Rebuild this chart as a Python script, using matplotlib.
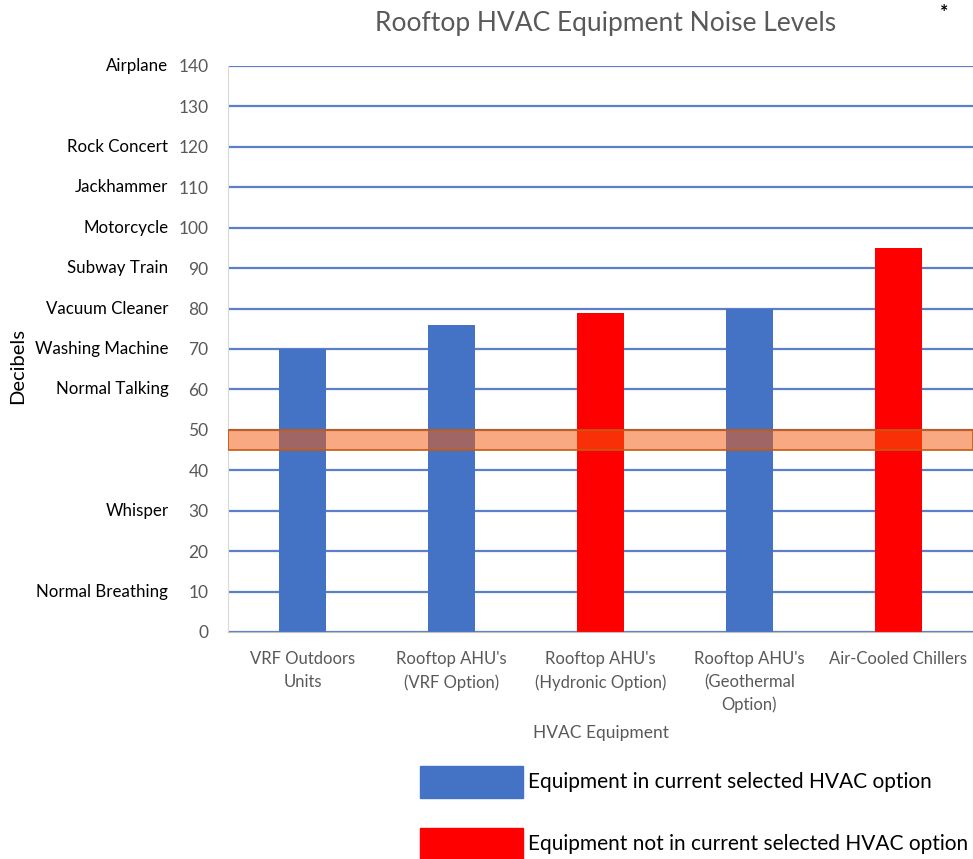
import matplotlib.pyplot as plt
from matplotlib.patches import Rectangle

# data
categories = ["VRF Outdoors\nUnits", "Rooftop AHU's\n(VRF Option)", "Rooftop AHU's\n(Hydronic Option)",
              "Rooftop AHU's\n(Geothermal\nOption)", "Air-Cooled Chillers"]
decibels = [70, 76, 79, 80, 95]
in_selected = [True, True, False, True, False]
ref_levels = [140, 120, 110, 100, 90, 80, 70, 60, 30, 10]
ref_names = ["Airplane", "Rock Concert", "Jackhammer", "Motorcycle", "Subway Train",
             "Vacuum Cleaner", "Washing Machine", "Normal Talking", "Whisper", "Normal Breathing"]
band_low, band_high = 45, 50

BLUE = '#4472C4'
RED = '#FF0000'
GRAY = '#595959'

plt.rcParams['font.family'] = ['Lato', 'DejaVu Sans']

fig = plt.figure(figsize=(9.73, 8.59), dpi=100)
ax = fig.add_axes([0.2343, 0.2643, 0.7657, 0.6589])

colors = [BLUE if s else RED for s in in_selected]
x = range(len(categories))
ax.bar(x, decibels, width=0.31, color=colors, zorder=2)

# orange band on top of bars
ax.axhspan(band_low, band_high, facecolor=(245/255, 91/255, 15/255, 0.52),
           edgecolor='#C55A11', linewidth=1.2, zorder=3)

ax.set_xlim(-0.5, 4.5)
ax.set_ylim(0, 140)
ax.set_yticks(range(0, 141, 10))
ax.yaxis.grid(True, color='#5B7FC8', linewidth=1.6, zorder=0)
ax.set_axisbelow(True)
ax.tick_params(axis='y', length=0, labelsize=12.5, labelcolor=GRAY, pad=14)
ax.tick_params(axis='x', length=0, labelsize=12, labelcolor=GRAY, pad=14)
ax.set_xticks(list(x))
ax.set_xticklabels(categories, linespacing=1.5)

for s in ['top', 'right']:
    ax.spines[s].set_visible(False)
ax.spines['left'].set_color('#D9D9D9')
ax.spines['bottom'].set_color('#BFBFBF')

# descriptive labels next to the dB scale
trans = ax.get_yaxis_transform()
for lvl, name in zip(ref_levels, ref_names):
    ax.text(-0.080, lvl, name, transform=trans, ha='right', va='center', fontsize=12.2, color='black')

ax.set_ylabel('Decibels', fontsize=14.5, color='black')
ax.yaxis.set_label_coords(-0.271, 0.47)
ax.set_xlabel('HVAC Equipment', fontsize=12.5, color=GRAY, labelpad=8)

fig.text(0.622, 0.973, 'Rooftop HVAC Equipment Noise Levels', ha='center', va='center',
         fontsize=19, color=GRAY)
fig.text(0.970, 0.986, '*', ha='center', va='center', fontsize=14, color='black', fontweight='bold')

# legend
fig.patches.append(Rectangle((420/973, 1 - 798/859), 103/973, 32/859,
                             transform=fig.transFigure, color=BLUE))
fig.patches.append(Rectangle((420/973, 1 - 859/859), 103/973, 31/859,
                             transform=fig.transFigure, color=RED))
fig.text(528/973, 1 - 782/859, 'Equipment in current selected HVAC option', va='center',
         fontsize=15, color='black')
fig.text(528/973, 1 - 844/859, 'Equipment not in current selected HVAC option', va='center',
         fontsize=15, color='black')

fig.savefig('out.png', dpi=100)
